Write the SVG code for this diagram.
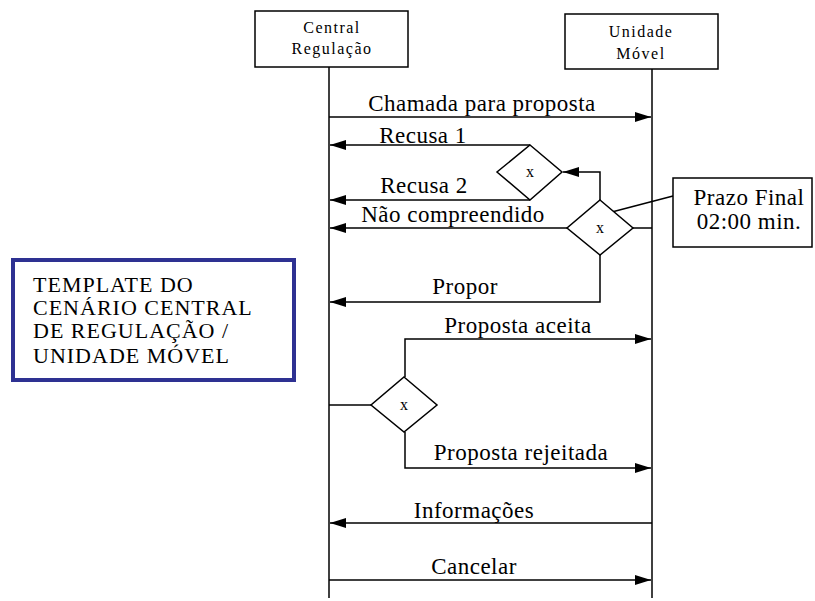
<svg xmlns="http://www.w3.org/2000/svg" width="815" height="601" viewBox="0 0 815 601">
  <style>
    .ln { fill: none; stroke: #000; stroke-width: 1.5; }
    .box { fill: #fff; stroke: #000; stroke-width: 1.5; }
    .msg { font-family: "Liberation Serif", "Times New Roman", serif; font-size: 23px; letter-spacing: 0.5px; fill: #000; text-anchor: middle; }
    .hdr { font-family: "Liberation Serif", "Times New Roman", serif; font-size: 16px; letter-spacing: 1.5px; fill: #000; text-anchor: middle; }
    .dx { font-family: "Liberation Serif", "Times New Roman", serif; font-size: 16px; fill: #000; text-anchor: middle; }
    .ttl { font-family: "Liberation Serif", "Times New Roman", serif; font-size: 22px; letter-spacing: 1px; fill: #000; }
  </style>
  <defs>
    <marker id="ah" viewBox="0 0 16 10" markerWidth="16" markerHeight="10" refX="16" refY="5" orient="auto" markerUnits="userSpaceOnUse">
      <path d="M0,0 L16,5 L0,10 z" fill="#000"/>
    </marker>
  </defs>
  <rect width="815" height="601" fill="#fff"/>

  <!-- lifelines -->
  <g id="lifelines">
    <line class="ln" x1="329" y1="67" x2="329" y2="598"/>
    <line class="ln" x1="652" y1="69" x2="652" y2="598"/>
  </g>

  <g id="central">
    <rect class="box" x="255" y="11" width="153" height="56"/>
    <text class="hdr" x="332" y="33">Central</text>
    <text class="hdr" x="332" y="54">Regulação</text>
  </g>

  <g id="unidade">
    <rect class="box" x="565" y="14" width="153" height="55"/>
    <text class="hdr" x="641" y="37">Unidade</text>
    <text class="hdr" x="641" y="59">Móvel</text>
  </g>

  <!-- connectors -->
  <g id="connectors">
    <line class="ln" x1="329" y1="117" x2="651" y2="117" marker-end="url(#ah)"/>
    <line class="ln" x1="530" y1="145" x2="330" y2="145" marker-end="url(#ah)"/>
    <line class="ln" x1="530" y1="200" x2="330" y2="200" marker-end="url(#ah)"/>
    <polyline class="ln" points="600,200 600,172 563,172" marker-end="url(#ah)"/>
    <line class="ln" x1="567" y1="228" x2="330" y2="228" marker-end="url(#ah)"/>
    <line class="ln" x1="633" y1="228" x2="652" y2="228"/>
    <polyline class="ln" points="600,255 600,302 330,302" marker-end="url(#ah)"/>
    <line class="ln" x1="673" y1="196" x2="608" y2="213"/>
    <line class="ln" x1="329" y1="405" x2="371" y2="405"/>
    <polyline class="ln" points="405,377 405,339 651,339" marker-end="url(#ah)"/>
    <polyline class="ln" points="405,432 405,468 651,468" marker-end="url(#ah)"/>
    <line class="ln" x1="652" y1="523" x2="330" y2="523" marker-end="url(#ah)"/>
    <line class="ln" x1="329" y1="580" x2="651" y2="580" marker-end="url(#ah)"/>
  </g>

  <g id="labels">
    <text class="msg" x="482" y="111">Chamada para proposta</text>
    <text class="msg" x="423" y="143">Recusa 1</text>
    <text class="msg" x="424" y="193">Recusa 2</text>
    <text class="msg" x="453" y="222">Não compreendido</text>
    <text class="msg" x="465" y="294">Propor</text>
    <text class="msg" x="518" y="333">Proposta aceita</text>
    <text class="msg" x="521" y="460">Proposta rejeitada</text>
    <text class="msg" x="474" y="518">Informações</text>
    <text class="msg" x="474" y="574">Cancelar</text>
  </g>

  <g id="gate-recusa">
    <polygon class="box" points="530,145 562,172 530,200 497,172"/>
    <text class="dx" x="530" y="177">x</text>
  </g>

  <g id="gate-prazo">
    <polygon class="box" points="600,200 633,228 600,255 567,228"/>
    <text class="dx" x="600" y="233">x</text>
  </g>

  <g id="gate-proposta">
    <polygon class="box" points="404,377 437,405 404,432 371,405"/>
    <text class="dx" x="404" y="410">x</text>
  </g>

  <g id="prazo-final">
    <rect class="box" x="673" y="178" width="139" height="69"/>
    <text class="msg" x="749" y="205">Prazo Final</text>
    <text class="msg" x="749" y="229">02:00 min.</text>
  </g>

  <g id="titulo">
    <rect x="13" y="260" width="281" height="120" fill="#fff" stroke="#2E3192" stroke-width="4"/>
    <text class="ttl" x="33" y="292">TEMPLATE DO</text>
    <text class="ttl" x="33" y="315">CENÁRIO CENTRAL</text>
    <text class="ttl" x="33" y="338">DE REGULAÇÃO /</text>
    <text class="ttl" x="33" y="363">UNIDADE  MÓVEL</text>
  </g>
</svg>
